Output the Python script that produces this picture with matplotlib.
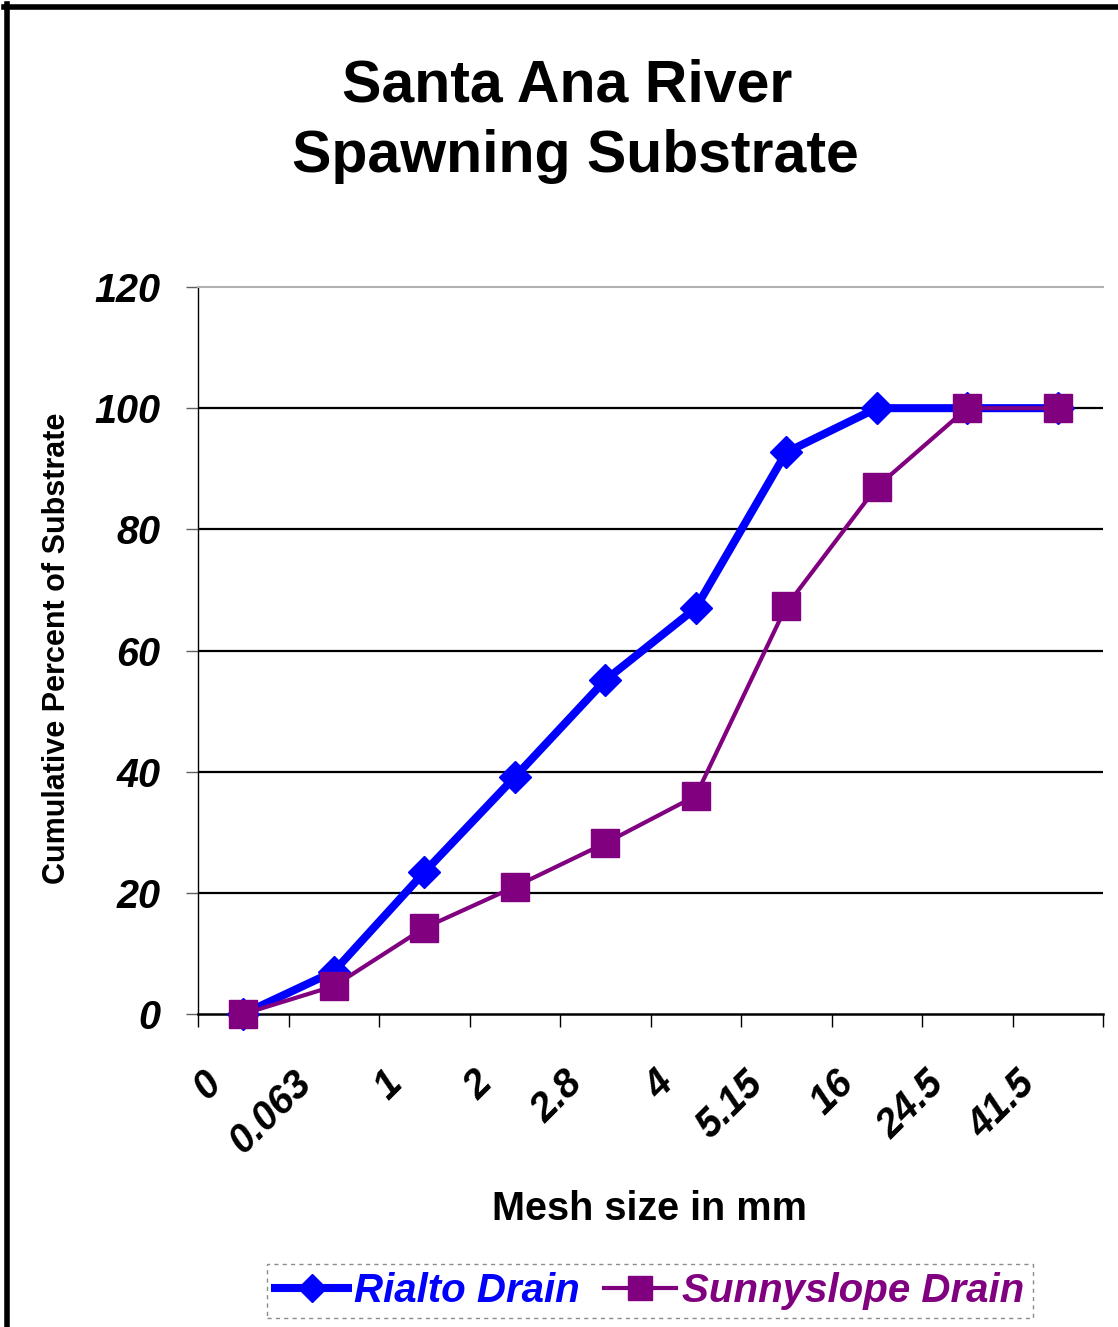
import matplotlib
matplotlib.use("Agg")
import matplotlib.pyplot as plt
from matplotlib.lines import Line2D
import matplotlib.transforms as mtransforms
import numpy as np

plt.rcParams['font.family'] = ['Liberation Sans', 'DejaVu Sans']

categories = ["0", "0.063", "1", "2", "2.8", "4", "5.15", "16", "24.5", "41.5"]
rialto = [0, 7.0, 23.4, 39.1, 55.1, 67.0, 92.7, 100, 100, 100]
sunnyslope = [0, 4.6, 14.2, 21.0, 28.2, 36.0, 67.3, 87.0, 100, 100]
yticks = [0, 20, 40, 60, 80, 100, 120]

W, H = 1118, 1327
fig = plt.figure(figsize=(W / 100, H / 100), dpi=100)
fig.patch.set_facecolor('white')

L, R, T, B = 198, 1103, 287, 1014
ax = fig.add_axes([L / W, 1 - B / H, (R - L) / W, (B - T) / H])

x = np.arange(len(categories)) + 0.5
BLUE = '#0000FF'
PURPLE = '#800080'

ax.plot(x, rialto, color=BLUE, lw=5.8, marker='D', ms=16, mec=BLUE, mfc=BLUE,
        zorder=4, label='Rialto Drain', clip_on=False)
ax.plot(x, sunnyslope, color=PURPLE, lw=3, marker='s', ms=19.5, mec=PURPLE, mfc=PURPLE,
        zorder=5, label='Sunnyslope Drain', clip_on=False)

ax.set_xlim(0, len(categories))
ax.set_ylim(0, 120)

for yv in yticks[1:-1]:
    ax.axhline(yv, color='black', lw=1.6, zorder=1)

ax.spines['right'].set_visible(False)
ax.spines['top'].set_color('#b0b0b0')
ax.spines['top'].set_linewidth(1.5)
ax.spines['left'].set_color('black')
ax.spines['left'].set_linewidth(1.0)
ax.spines['bottom'].set_color('black')
ax.spines['bottom'].set_linewidth(1.8)

tickfont = dict(fontsize=28.5, fontweight='bold', fontstyle='italic')
ax.set_yticks(yticks)
ax.set_yticklabels([str(v) for v in yticks], **tickfont)
ax.tick_params(axis='y', length=9, width=1.0, color='#606060', pad=18)

ax.set_xticks(np.arange(len(categories) + 1), minor=False)
ax.set_xticklabels([])
ax.tick_params(axis='x', which='major', length=9, width=1.0, color='black', direction='out')
ax.set_xticks(x, minor=True)
ax.set_xticklabels(categories, minor=True, rotation=45, ha='right', va='top',
                   rotation_mode='anchor', **tickfont)
ax.tick_params(axis='x', which='minor', length=0, pad=36)
offset = mtransforms.ScaledTranslation(-42 / 100, 0, fig.dpi_scale_trans)
for lbl in ax.get_xticklabels(minor=True):
    lbl.set_transform(lbl.get_transform() + offset)

fig.text(649 / W, 1 - 1220 / H, "Mesh size in mm", ha='center', va='baseline',
         fontsize=28.5, fontweight='bold')
fig.text(57 / W, 1 - 648 / H, "Cumulative Percent of Substrate", ha='center', va='center',
         rotation=90, fontsize=22, fontweight='bold')

fig.text(567 / W, 1 - 102 / H, "Santa Ana River", ha='center', va='baseline',
         fontsize=42.5, fontweight='bold')
fig.text(575 / W, 1 - 172 / H, "Spawning Substrate", ha='center', va='baseline',
         fontsize=42.5, fontweight='bold')

leg = fig.legend(loc='center', bbox_to_anchor=(650 / W, 1 - 1291 / H), ncol=2,
                 prop={'size': 29, 'weight': 'bold', 'style': 'italic'},
                 frameon=True, fancybox=False, handlelength=1.8, handletextpad=0.15,
                 columnspacing=0.6, borderpad=0.2, borderaxespad=0)
for t, c in zip(leg.get_texts(), [BLUE, PURPLE]):
    t.set_color(c)
fr = leg.get_frame()
fr.set_edgecolor('#707070')
fr.set_linestyle((0, (3, 3)))
fr.set_linewidth(1.0)
fr.set_facecolor('white')
for h, ms in zip(leg.legend_handles, [16, 19.5]):
    h.set_markersize(ms * 0.9)

fig.add_artist(Line2D([6.5 / W, 6.5 / W], [0, 1 - 4 / H], color='black', lw=4, transform=fig.transFigure))
fig.add_artist(Line2D([4 / W, 1], [1 - 6.5 / H, 1 - 6.5 / H], color='black', lw=4, transform=fig.transFigure))

fig.savefig("out.png", dpi=100, facecolor='white')
